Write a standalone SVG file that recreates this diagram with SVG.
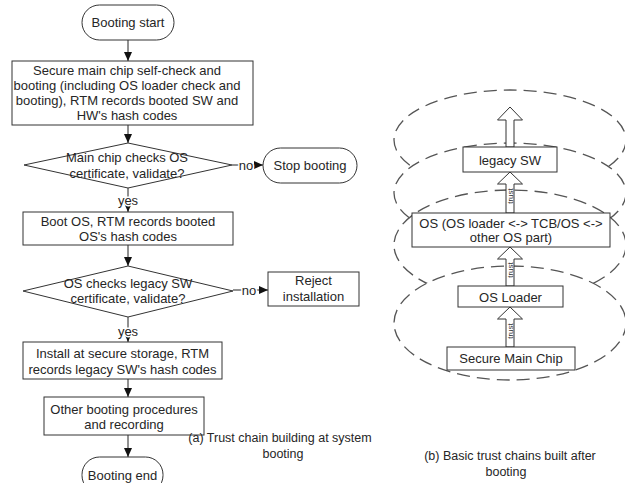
<svg xmlns="http://www.w3.org/2000/svg" width="625" height="483" viewBox="0 0 625 483">
  <defs>
    <style>
      text { font-family: "Liberation Sans", Arial, sans-serif; font-size: 13px; fill: #262626; text-anchor: middle; }
      .cap { font-size: 12.5px; }
      .lbl { stroke: #fff; stroke-width: 3px; paint-order: stroke; }
      .trust { font-size: 8px; fill: #333; }
      .box { fill: #fff; stroke: #333; stroke-width: 1; }
      .flow { fill: none; stroke: #222; stroke-width: 1; }
      .ring { fill: #fff; stroke: #555; stroke-width: 1.3; stroke-dasharray: 13 7; }
      .blk { fill: #fff; stroke: #333; stroke-width: 1; }
    </style>
    <marker id="ah" markerUnits="userSpaceOnUse" markerWidth="9" markerHeight="8" refX="9" refY="4" orient="auto">
      <path d="M0,0 L9,4 L0,8 Z" fill="#111"/>
    </marker>
  </defs>

  <!-- (a) boot-time flowchart -->
  <g id="connectors">
    <line class="flow" x1="128" y1="40" x2="128" y2="61" marker-end="url(#ah)"/>
    <line class="flow" x1="128" y1="125" x2="128" y2="143" marker-end="url(#ah)"/>
    <line class="flow" x1="128" y1="188" x2="128" y2="212" marker-end="url(#ah)"/>
    <line class="flow" x1="232" y1="165" x2="263" y2="165" marker-end="url(#ah)"/>
    <line class="flow" x1="128" y1="245" x2="128" y2="266" marker-end="url(#ah)"/>
    <line class="flow" x1="233" y1="290" x2="268" y2="290" marker-end="url(#ah)"/>
    <line class="flow" x1="128" y1="317" x2="128" y2="342" marker-end="url(#ah)"/>
    <line class="flow" x1="128" y1="379" x2="128" y2="397" marker-end="url(#ah)"/>
    <line class="flow" x1="128" y1="435" x2="128" y2="457" marker-end="url(#ah)"/>
    <text class="lbl" x="128" y="204.5">yes</text>
    <text class="lbl" x="246" y="169.5">no</text>
    <text class="lbl" x="249" y="294.5">no</text>
    <text class="lbl" x="128" y="335.5">yes</text>
  </g>

  <g id="boot-start">
    <rect class="box" x="82" y="5" width="92" height="35" rx="17.5"/>
    <text x="128" y="27">Booting start</text>
  </g>
  <g id="chip-selfcheck">
    <rect class="box" x="12" y="61" width="241" height="64"/>
    <text x="127" y="74.5">Secure main chip self-check and</text>
    <text x="127" y="89.5">booting (including OS loader check and</text>
    <text x="127" y="104.5">booting), RTM records booted SW and</text>
    <text x="127" y="119.5">HW's hash codes</text>
  </g>
  <g id="check-os-cert">
    <polygon class="box" points="128,143 232,165 128,188 24,165"/>
    <text x="127" y="162">Main chip checks OS</text>
    <text x="127" y="177.5">certificate, validate?</text>
  </g>
  <g id="stop-booting">
    <rect class="box" x="263" y="148" width="94" height="35" rx="17.5"/>
    <text x="310" y="170">Stop booting</text>
  </g>
  <g id="boot-os">
    <rect class="box" x="23" y="212" width="210" height="33"/>
    <text x="128" y="225.5">Boot OS, RTM records booted</text>
    <text x="128" y="240.5">OS's hash codes</text>
  </g>
  <g id="check-sw-cert">
    <polygon class="box" points="128,266 233,291 128,317 23,291"/>
    <text x="128" y="288">OS checks legacy SW</text>
    <text x="128" y="302.5">certificate, validate?</text>
  </g>
  <g id="reject-install">
    <rect class="box" x="268" y="272" width="91" height="34"/>
    <text x="313.5" y="285">Reject</text>
    <text x="313.5" y="300.5">installation</text>
  </g>
  <g id="install-secure">
    <rect class="box" x="23" y="342" width="199" height="37"/>
    <text x="122.5" y="357.5">Install at secure storage, RTM</text>
    <text x="122.5" y="373.5">records legacy SW's hash codes</text>
  </g>
  <g id="other-procedures">
    <rect class="box" x="44" y="397" width="160" height="38"/>
    <text x="124" y="413.5">Other booting procedures</text>
    <text x="124" y="428.5">and recording</text>
  </g>
  <g id="boot-end">
    <rect class="box" x="82" y="457" width="81" height="36" rx="17.5"/>
    <text x="122.5" y="479.5">Booting end</text>
  </g>

  <g id="caption-a">
    <text class="cap" x="280" y="442">(a) Trust chain building at system</text>
    <text class="cap" x="283" y="458">booting</text>
  </g>

  <!-- (b) nested trust domains after boot -->
  <g id="domains">
    <ellipse class="ring" cx="510" cy="140" rx="116" ry="50"/>
    <ellipse class="ring" cx="510" cy="193" rx="116" ry="50"/>
    <ellipse class="ring" cx="510" cy="245" rx="116" ry="55"/>
    <ellipse class="ring" cx="510" cy="323" rx="116" ry="57"/>
  </g>

  <g id="trust-arrows">
    <path class="blk" d="M510,107 L522.5,120 L514,120 L514,147 L506,147 L506,120 L497.5,120 Z"/>
    <path class="blk" d="M510,172 L522.5,184 L514,184 L514,213 L506,213 L506,184 L497.5,184 Z"/>
    <text class="trust" transform="translate(513,196) rotate(-90)">trust</text>
    <path class="blk" d="M510,247 L522.5,259 L514,259 L514,286 L506,286 L506,259 L497.5,259 Z"/>
    <text class="trust" transform="translate(513,270) rotate(-90)">trust</text>
    <path class="blk" d="M510,307 L522.5,319 L514,319 L514,347 L506,347 L506,319 L497.5,319 Z"/>
    <text class="trust" transform="translate(513,331) rotate(-90)">trust</text>
  </g>

  <g id="legacy-sw">
    <rect class="box" x="463" y="147" width="94" height="25"/>
    <text x="510" y="164.5">legacy SW</text>
  </g>
  <g id="os">
    <rect class="box" x="412" y="213" width="198" height="34"/>
    <text x="511" y="227.5">OS (OS loader &lt;-&gt; TCB/OS &lt;-&gt;</text>
    <text x="511" y="242">other OS part)</text>
  </g>
  <g id="os-loader">
    <rect class="box" x="458" y="286" width="105" height="21"/>
    <text x="510.5" y="301.5">OS Loader</text>
  </g>
  <g id="secure-main-chip">
    <rect class="box" x="447" y="347" width="128" height="23"/>
    <text x="511" y="363">Secure Main Chip</text>
  </g>

  <g id="caption-b">
    <text class="cap" x="510" y="459.5">(b) Basic trust chains built after</text>
    <text class="cap" x="506" y="476">booting</text>
  </g>
</svg>
